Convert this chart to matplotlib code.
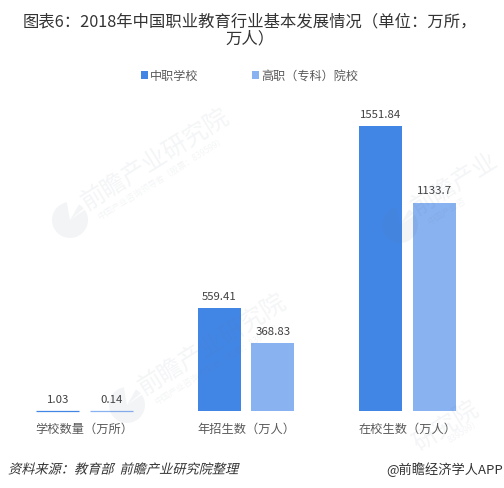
import matplotlib
matplotlib.use("Agg")
import matplotlib.pyplot as plt
from matplotlib.patches import Wedge
from matplotlib.patheffects import AbstractPathEffect
from matplotlib.transforms import Affine2D, IdentityTransform

plt.rcParams['font.family'] = ['Noto Sans CJK SC', 'DejaVu Sans']

categories = ['学校数量（万所）', '年招生数（万人）', '在校生数（万人）']
series_names = ['中职学校', '高职（专科）院校']
secondary = [1.03, 559.41, 1551.84]
vocational = [0.14, 368.83, 1133.7]
value_labels_a = ['1.03', '559.41', '1551.84']
value_labels_b = ['0.14', '368.83', '1133.7']
colors = ['#4286E5', '#88B2F0']

W, H = 504, 488
fig = plt.figure(figsize=(W / 100, H / 100), dpi=100, facecolor='white')

def fx(x): return x / W
def fy(y): return 1 - y / H

class Oblique(AbstractPathEffect):
    def __init__(self, deg=14):
        super().__init__()
        self.skew = Affine2D().skew_deg(deg, 0)
    def draw_path(self, renderer, gc, tpath, affine, rgbFace=None):
        renderer.draw_path(gc, self.skew.transform_path(tpath), affine, rgbFace)

ax = fig.add_axes([fx(3.75), fy(411), 484.5 / W, (411 - 80.3) / H])
x = list(range(len(categories)))
offset = 0.166
bw = 0.266
pos_a = [i - offset for i in x]
pos_b = [i + offset for i in x]
bars_a = ax.bar(pos_a, secondary, bw, color=colors[0], linewidth=0, label=series_names[0])
bars_b = ax.bar(pos_b, vocational, bw, color=colors[1], linewidth=0, label=series_names[1])
# bars too short to show at this scale keep a hairline, as in the reference
for pos, vals, c in [(pos_a, secondary, colors[0]), (pos_b, vocational, colors[1])]:
    ax.hlines(vals[0], pos[0] - bw / 2, pos[0] + bw / 2, color=c, linewidth=0.9, clip_on=False)
ax.bar_label(bars_a, labels=value_labels_a, padding=4.5, fontsize=8.2, color='#404040')
ax.bar_label(bars_b, labels=value_labels_b, padding=4.5, fontsize=8.2, color='#404040')
ax.set_xlim(-0.5, 2.5)
ax.set_ylim(0, 1800)
ax.set_yticks([])
ax.set_xticks(x)
ax.set_xticklabels(categories, fontsize=8.8, color='#595959')
ax.tick_params(axis='x', length=0, pad=8.5)
for s in ax.spines.values():
    s.set_visible(False)

leg = fig.legend(loc='center', bbox_to_anchor=(fx(249.5), fy(76)), ncol=2, frameon=False,
                 fontsize=8.7, handlelength=0.6, handleheight=0.6, handletextpad=0.2,
                 columnspacing=4.4, borderpad=0, borderaxespad=0, labelcolor='#595959')

fig.text(fx(250), fy(22), '图表6：2018年中国职业教育行业基本发展情况（单位：万所，',
         ha='center', va='center', fontsize=11.75, color='#333333')
fig.text(fx(250), fy(38.5), '万人）', ha='center', va='center', fontsize=11.75, color='#333333')

src = fig.text(fx(8), fy(470), '资料来源：教育部  前瞻产业研究院整理', ha='left', va='center',
               fontsize=9.5, color='#333333')
src.set_path_effects([Oblique()])
fig.text(fx(503), fy(470), '@前瞻经济学人APP', ha='right', va='center', fontsize=9.5, color='#333333')

# Watermarks
wm = (0.35, 0.42, 0.55)
ANG = 32
def mark(px, py, s, size):
    fig.text(fx(px), fy(py), s, rotation=ANG, rotation_mode='anchor', ha='left', va='center',
             fontsize=size, color=wm, alpha=0.07, zorder=5)

def logo(cx, cy):
    for a, b in [(100, 395), (400, 420)]:
        fig.add_artist(Wedge((cx, H - cy), 18, a, b, transform=IdentityTransform(), facecolor=wm,
                             edgecolor='none', alpha=0.07, zorder=5))

full_main = '前瞻产业研究院'
full_sub = '中国产业咨询领导者（股票：839599）'
for ox, oy in [(0, 0), (57, 185)]:
    mark(84 + ox, 205 + oy, full_main, 17.5)
    mark(98 + ox, 218 + oy, full_sub, 6.2)
    logo(70 + ox, 220 + oy)
mark(414, 210, '前瞻产业', 17.5)
mark(428, 223, '中国产业咨', 6.2)
logo(400, 225)
mark(415, 446, '研究院', 17.5)
mark(449, 441, '839599）', 6.2)

fig.savefig('out.png', dpi=100, facecolor='white')
